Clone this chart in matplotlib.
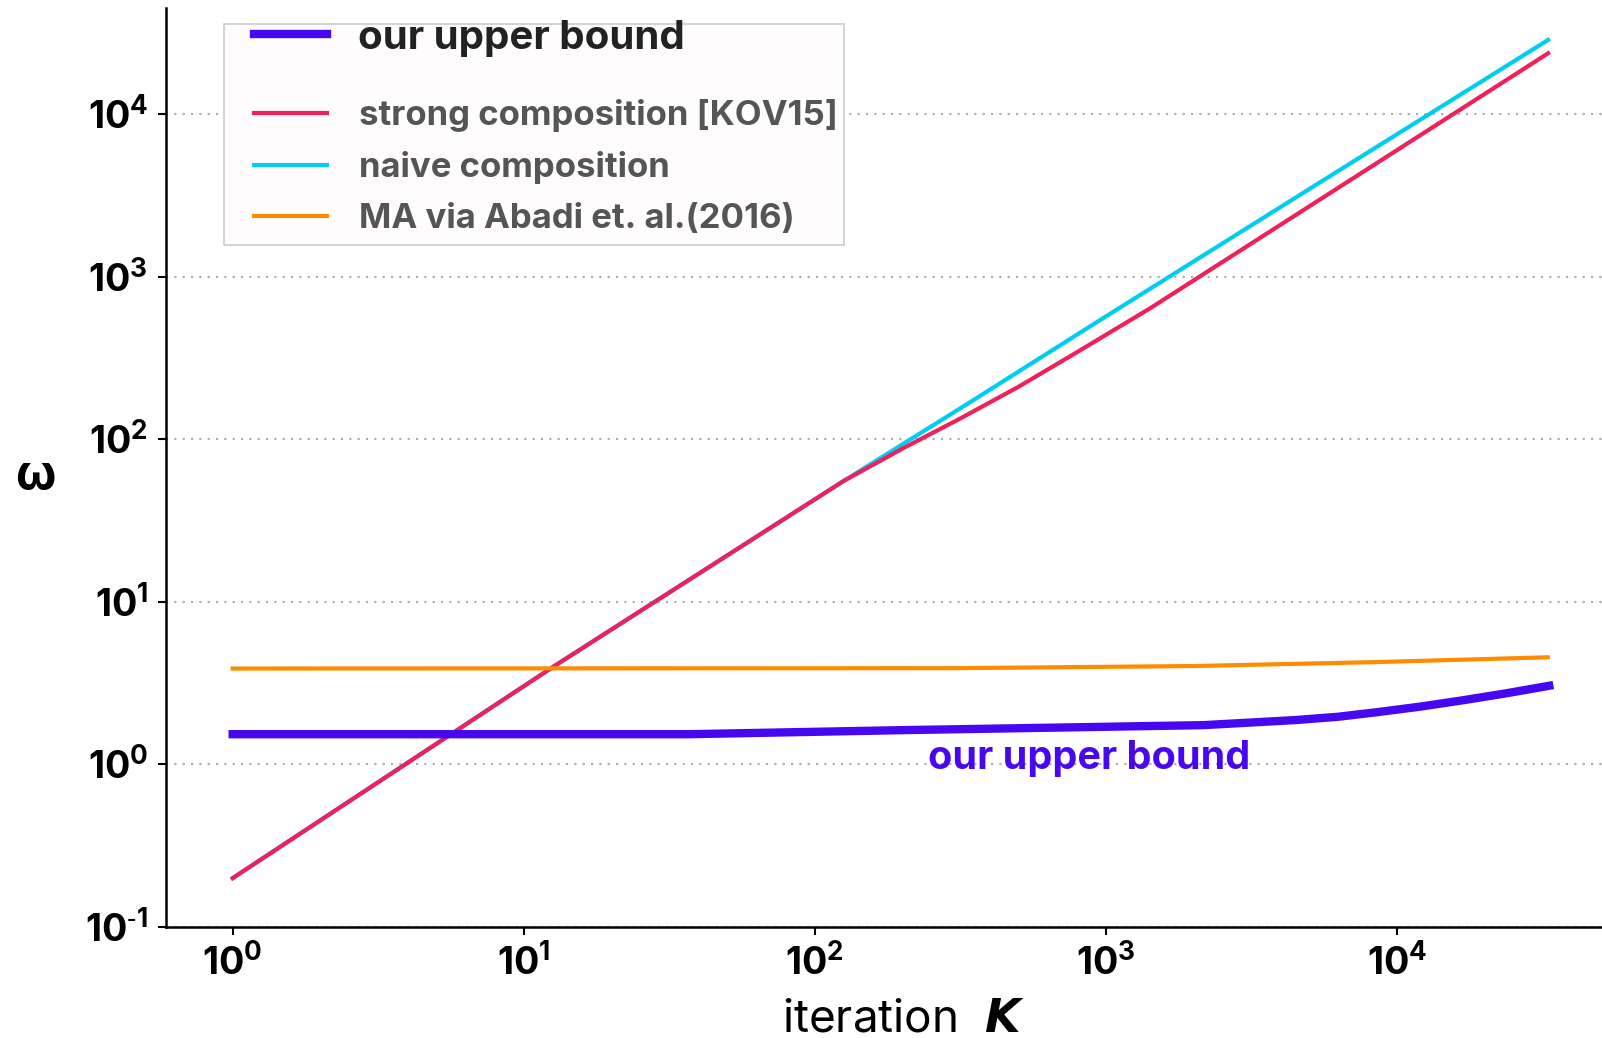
import matplotlib
matplotlib.use("Agg")
import matplotlib.pyplot as plt
import numpy as np
from matplotlib.legend_handler import HandlerLine2D
from matplotlib.lines import Line2D
from matplotlib.patches import Rectangle
from matplotlib.ticker import FuncFormatter

plt.rcParams["font.family"] = ["Inter", "DejaVu Sans"]

# data (K -> omega)
k_ours = [1, 37, 197, 1000, 2170, 4500, 6300, 8550, 12000, 17000, 24000, 33400]
w_ours = [1.53, 1.53, 1.62, 1.70, 1.74, 1.87, 1.96, 2.09, 2.26, 2.48, 2.74, 3.04]

k_strong = [1, 12.5, 125, 200, 316, 501, 794, 1422, 5309, 33100]
w_strong = [0.199, 3.93, 55, 87.5, 134, 210, 342, 640, 2900, 23700]

k_naive = [1, 12.5, 125, 333, 931, 5309, 33100]
w_naive = [0.199, 3.93, 55, 164, 525, 3700, 28640]

k_ma = [1, 300, 2000, 8500, 33000]
w_ma = [3.88, 3.90, 4.02, 4.25, 4.55]

C_OURS = "#4707f0"
C_STRONG = "#f0215a"
C_NAIVE = "#00cdf4"
C_MA = "#ff8c00"


def pow10(v, pos):
    e = int(round(np.log10(v)))
    if e < 0:
        return r"$\mathdefault{10^{\text{-}%d}}$" % (-e)
    return r"$\mathdefault{10^{%d}}$" % e


fig = plt.figure(figsize=(16.02, 10.38), dpi=100)
ax = fig.add_axes([0.1036, 0.1072, 0.8964, 0.8849])

l_ours, = ax.plot(k_ours, w_ours, color=C_OURS, lw=6, zorder=4,
                  label="our upper bound")
l_strong, = ax.plot(k_strong, w_strong, color=C_STRONG, lw=3, zorder=3,
                    label="strong composition [KOV15]")
l_naive, = ax.plot(k_naive, w_naive, color=C_NAIVE, lw=3, zorder=2,
                   label="naive composition")
l_ma, = ax.plot(k_ma, w_ma, color=C_MA, lw=3, zorder=3,
                label="MA via Abadi et. al.(2016)")

ax.set_xscale("log")
ax.set_yscale("log")
ax.set_xlim(0.59, 50700)
ax.set_ylim(0.1, 44900)
ax.minorticks_off()
ax.xaxis.set_major_formatter(FuncFormatter(pow10))
ax.yaxis.set_major_formatter(FuncFormatter(pow10))

ax.grid(axis="y", color="#aaaaaa", lw=1.5, ls=(0, (1, 3)))
ax.grid(axis="x", visible=False)
ax.set_axisbelow(True)

for s in ["top", "right"]:
    ax.spines[s].set_visible(False)
for s in ["left", "bottom"]:
    ax.spines[s].set_linewidth(1.8)

ax.tick_params(axis="both", length=6, width=1.5, pad=7, labelsize=27)
for lab in ax.get_xticklabels() + ax.get_yticklabels():
    lab.set_fontweight("bold")

ax.text(245, 1.09, "our upper bound", color=C_OURS, fontsize=28.5,
        fontweight="bold", ha="left", va="center")

fig.text(0.5637, 0.006, r"iteration  $\boldsymbol{K}$", fontsize=33,
         ha="center", va="baseline")
fig.text(0.022, 0.54, "ω", fontsize=35, fontweight="bold",
         ha="center", va="center")

# legend frame + two frameless legends (the first entry is bigger)
ax.add_patch(Rectangle((0.0404, 0.7422), 0.4318, 0.2403, transform=ax.transAxes,
                       facecolor="#fffcfd", edgecolor="#cccccc", lw=1.2,
                       zorder=5.5))

leg_a = ax.legend(handles=[l_ours], loc="center left",
                  bbox_to_anchor=(0.0474, 0.9675), frameon=False,
                  fontsize=29, borderpad=0, borderaxespad=0,
                  handlelength=2.3, handletextpad=0.79,
                  handler_map={Line2D: HandlerLine2D(xpad=0.5)})
leg_a.set_zorder(6)
for t in leg_a.get_texts():
    t.set_fontweight("bold")
    t.set_color("#222222")
ax.add_artist(leg_a)

leg_b = ax.legend(handles=[l_strong, l_naive, l_ma], loc="center left",
                  bbox_to_anchor=(0.0474, 0.827), frameon=False,
                  fontsize=25, borderpad=0, borderaxespad=0,
                  handlelength=2.67, handletextpad=0.92, labelspacing=0.55,
                  handler_map={Line2D: HandlerLine2D(xpad=0.58)})
leg_b.set_zorder(6)
for t in leg_b.get_texts():
    t.set_fontweight("bold")
    t.set_color("#555555")

fig.savefig("out.png", dpi=100)
